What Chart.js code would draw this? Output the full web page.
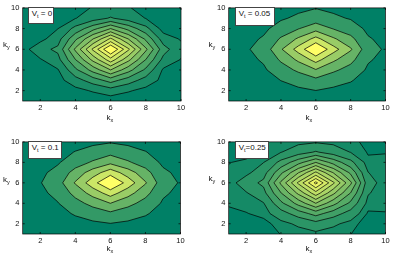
<!DOCTYPE html>
<html lang="en">
  <head>
    <meta charset="UTF-8" />
    <title>Contour panels</title>
    <script src="https://cdn.jsdelivr.net/npm/chart.js"></script>
    <style>
      body {
        margin: 0;
        background: #fff;
      }
      .page {
        position: relative;
        width: 395px;
        height: 262px;
        overflow: hidden;
        font-family: "Liberation Sans", Arial, sans-serif;
        color: #111;
      }
      .page canvas {
        position: absolute;
      }
      .lbl {
        position: absolute;
        font-size: 8px;
        line-height: 8px;
        white-space: nowrap;
      }
      .lbl sub,
      .key sub {
        font-size: 5.5px;
        line-height: 0;
        vertical-align: -2px;
      }
      .key {
        position: absolute;
        box-sizing: border-box;
        background: #fff;
        border: 1px solid #444;
        font-size: 8px;
        line-height: 8px;
        padding: 2.4px 0 0 2.4px;
        white-space: nowrap;
      }
    </style>
  </head>
  <body>
    <div class="page" id="page"></div>
    <script>
      // grid nodes
      const kx = [1, 2, 3, 4, 5, 6, 7, 8, 9, 10];
      const ky = [1, 2, 3, 4, 5, 6, 7, 8, 9, 10];
      const tickValues = [2, 4, 6, 8, 10];

      // values, one row per ky (1 at the bottom)
      const gridVt0 = [
        [0.003, 0.008, 0.010, 0.023, 0.037, 0.050, 0.037, 0.023, 0.011, 0.006],
        [0.008, 0.023, 0.029, 0.070, 0.110, 0.150, 0.110, 0.070, 0.032, 0.017],
        [0.018, 0.045, 0.067, 0.158, 0.249, 0.340, 0.249, 0.158, 0.073, 0.038],
        [0.032, 0.070, 0.093, 0.278, 0.439, 0.600, 0.439, 0.278, 0.085, 0.067],
        [0.046, 0.092, 0.169, 0.399, 0.630, 0.860, 0.630, 0.399, 0.170, 0.096],
        [0.060, 0.170, 0.220, 0.520, 0.820, 1.120, 0.820, 0.520, 0.240, 0.125],
        [0.044, 0.070, 0.161, 0.380, 0.600, 0.820, 0.600, 0.380, 0.150, 0.092],
        [0.027, 0.050, 0.098, 0.232, 0.366, 0.500, 0.366, 0.232, 0.060, 0.056],
        [0.011, 0.032, 0.041, 0.097, 0.154, 0.210, 0.154, 0.097, 0.045, 0.024],
        [0.006, 0.018, 0.024, 0.075, 0.105, 0.120, 0.105, 0.075, 0.026, 0.013]
      ];
      const gridVt005 = [
        [0.120, 0.120, 0.120, 0.120, 0.120, 0.120, 0.120, 0.120, 0.120, 0.120],
        [0.120, 0.126, 0.133, 0.154, 0.174, 0.198, 0.174, 0.157, 0.132, 0.126],
        [0.120, 0.134, 0.151, 0.202, 0.252, 0.310, 0.252, 0.209, 0.150, 0.134],
        [0.120, 0.147, 0.180, 0.279, 0.378, 0.490, 0.378, 0.293, 0.179, 0.147],
        [0.120, 0.164, 0.216, 0.373, 0.531, 0.710, 0.531, 0.396, 0.214, 0.164],
        [0.120, 0.183, 0.258, 0.485, 0.712, 0.970, 0.712, 0.518, 0.256, 0.183],
        [0.120, 0.163, 0.214, 0.369, 0.524, 0.700, 0.524, 0.392, 0.213, 0.163],
        [0.120, 0.144, 0.172, 0.257, 0.343, 0.440, 0.343, 0.270, 0.171, 0.144],
        [0.120, 0.131, 0.144, 0.184, 0.225, 0.270, 0.225, 0.190, 0.144, 0.131],
        [0.120, 0.126, 0.132, 0.152, 0.172, 0.195, 0.172, 0.155, 0.132, 0.126]
      ];
      const gridVt01 = [
        [0.120, 0.120, 0.120, 0.120, 0.120, 0.120, 0.120, 0.120, 0.120, 0.120],
        [0.120, 0.126, 0.135, 0.155, 0.175, 0.195, 0.175, 0.155, 0.133, 0.126],
        [0.120, 0.137, 0.159, 0.213, 0.266, 0.320, 0.266, 0.213, 0.153, 0.136],
        [0.120, 0.152, 0.194, 0.296, 0.398, 0.500, 0.398, 0.296, 0.184, 0.150],
        [0.120, 0.171, 0.237, 0.398, 0.559, 0.720, 0.559, 0.398, 0.220, 0.168],
        [0.120, 0.193, 0.286, 0.514, 0.742, 0.970, 0.742, 0.514, 0.262, 0.188],
        [0.120, 0.173, 0.241, 0.407, 0.574, 0.740, 0.574, 0.407, 0.224, 0.170],
        [0.120, 0.149, 0.186, 0.278, 0.369, 0.460, 0.369, 0.278, 0.177, 0.147],
        [0.120, 0.136, 0.156, 0.205, 0.254, 0.303, 0.254, 0.205, 0.151, 0.135],
        [0.120, 0.126, 0.133, 0.152, 0.170, 0.189, 0.170, 0.152, 0.132, 0.126]
      ];
      const gridVt025 = [
        [0.020, 0.025, 0.035, 0.051, 0.065, 0.080, 0.065, 0.051, 0.020, 0.015],
        [0.030, 0.022, 0.031, 0.074, 0.116, 0.160, 0.116, 0.074, 0.020, 0.030],
        [0.040, 0.047, 0.067, 0.156, 0.247, 0.340, 0.247, 0.156, 0.042, 0.049],
        [0.055, 0.070, 0.095, 0.276, 0.436, 0.600, 0.436, 0.276, 0.074, 0.055],
        [0.058, 0.092, 0.169, 0.396, 0.624, 0.860, 0.624, 0.396, 0.107, 0.058],
        [0.060, 0.155, 0.222, 0.520, 0.820, 1.130, 0.820, 0.520, 0.140, 0.060],
        [0.058, 0.075, 0.161, 0.377, 0.595, 0.820, 0.595, 0.377, 0.102, 0.058],
        [0.048, 0.060, 0.098, 0.230, 0.363, 0.500, 0.363, 0.230, 0.062, 0.055],
        [0.035, 0.029, 0.055, 0.097, 0.152, 0.210, 0.152, 0.097, 0.045, 0.049],
        [0.025, 0.045, 0.052, 0.065, 0.080, 0.090, 0.080, 0.055, 0.045, 0.030]
      ];

      // contour levels per panel
      const levelsVt0 = [0.1, 0.2, 0.3, 0.4, 0.5, 0.6, 0.7, 0.8, 0.9, 1.0];
      const levelsVt005 = [0.2, 0.35, 0.5, 0.65, 0.8];
      const levelsVt01 = [0.2, 0.35, 0.5, 0.65, 0.8];
      const levelsVt025 = [0.05, 0.1, 0.2, 0.3, 0.4, 0.5, 0.6, 0.7, 0.8, 0.9, 1.0, 1.1];

      const panelLabels = ["V<sub>t</sub> = 0", "V<sub>t</sub> = 0.05", "V<sub>t</sub> = 0.1", "V<sub>t</sub>=0.25"];

      // matlab "summer" colormap
      const summer = (t) =>
        "rgb(" + Math.round(255 * t) + "," + Math.round(127.5 + 127.5 * t) + ",102)";

      // part of one grid cell where value >= level (linear on the edges)
      function clipCell(c, level) {
        const out = [];
        for (let k = 0; k < 4; k++) {
          const a = c[k], b = c[(k + 1) % 4];
          const inA = a.v >= level, inB = b.v >= level;
          if (inA) out.push({ x: a.x, y: a.y, cut: false });
          if (inA !== inB) {
            const t = (level - a.v) / (b.v - a.v);
            out.push({ x: a.x + t * (b.x - a.x), y: a.y + t * (b.y - a.y), cut: true });
          }
        }
        return out;
      }

      const contourPlugin = {
        id: "contourFill",
        beforeDatasetsDraw(chart) {
          const ds = chart.data.datasets[0];
          const { ctx, chartArea: area, scales } = chart;
          const px = kx.map((v) => scales.x.getPixelForValue(v));
          const py = ky.map((v) => scales.y.getPixelForValue(v));
          const z = ds.grid;
          const levels = ds.levels;
          const cells = [];
          for (let j = 0; j < ky.length - 1; j++) {
            for (let i = 0; i < kx.length - 1; i++) {
              cells.push([
                { x: px[i], y: py[j], v: z[j][i] },
                { x: px[i + 1], y: py[j], v: z[j][i + 1] },
                { x: px[i + 1], y: py[j + 1], v: z[j + 1][i + 1] },
                { x: px[i], y: py[j + 1], v: z[j + 1][i] }
              ]);
            }
          }
          ctx.save();
          ctx.beginPath();
          ctx.rect(area.left, area.top, area.width, area.height);
          ctx.clip();
          ctx.fillStyle = summer(0);
          ctx.fillRect(area.left, area.top, area.width, area.height);
          const segs = [];
          levels.forEach((level, k) => {
            ctx.beginPath();
            cells.forEach((c) => {
              const poly = clipCell(c, level);
              if (poly.length < 3) return;
              ctx.moveTo(poly[0].x, poly[0].y);
              for (let m = 1; m < poly.length; m++) ctx.lineTo(poly[m].x, poly[m].y);
              ctx.closePath();
              for (let m = 0; m < poly.length; m++) {
                const a = poly[m], b = poly[(m + 1) % poly.length];
                if (a.cut && b.cut) segs.push([a, b]);
              }
            });
            ctx.fillStyle = summer((k + 1) / levels.length);
            ctx.fill();
          });
          ctx.beginPath();
          segs.forEach(([a, b]) => {
            ctx.moveTo(a.x, a.y);
            ctx.lineTo(b.x, b.y);
          });
          ctx.strokeStyle = "#000";
          ctx.lineWidth = 0.7;
          ctx.stroke();
          ctx.restore();
        },
        afterDatasetsDraw(chart) {
          // box with inward ticks on all four sides
          const { ctx, chartArea: a, scales } = chart;
          ctx.save();
          ctx.strokeStyle = "#000";
          ctx.lineWidth = 0.7;
          ctx.strokeRect(a.left, a.top, a.width, a.height);
          ctx.beginPath();
          tickValues.forEach((v) => {
            const x = scales.x.getPixelForValue(v);
            const y = scales.y.getPixelForValue(v);
            ctx.moveTo(x, a.bottom);
            ctx.lineTo(x, a.bottom - 2);
            ctx.moveTo(x, a.top);
            ctx.lineTo(x, a.top + 2);
            ctx.moveTo(a.left, y);
            ctx.lineTo(a.left + 2, y);
            ctx.moveTo(a.right, y);
            ctx.lineTo(a.right - 2, y);
          });
          ctx.stroke();
          ctx.restore();
        }
      };

      const panels = [
        { grid: gridVt0, levels: levelsVt0, label: panelLabels[0],
          left: 0, top: 0, w: 197, h: 131, padRight: 16, xh: 30,
          key: [28.3, 6.7, 26, 17.6], kxAt: [106.5, 113.8], kyAt: [3, 40.5] },
        { grid: gridVt005, levels: levelsVt005, label: panelLabels[1],
          left: 206.3, top: 0, w: 188.7, h: 131, padRight: 8.5, xh: 30,
          key: [235.3, 7, 40, 19], kxAt: [305.5, 113.8], kyAt: [208.5, 40.5] },
        { grid: gridVt01, levels: levelsVt01, label: panelLabels[2],
          left: 0, top: 134, w: 197, h: 128, padRight: 16.5, xh: 28,
          key: [28.3, 140.7, 33.4, 18], kxAt: [106.5, 244.8], kyAt: [3, 175.5] },
        { grid: gridVt025, levels: levelsVt025, label: panelLabels[3],
          left: 206.3, top: 134, w: 188.7, h: 128, padRight: 8.5, xh: 28,
          key: [235.3, 140.7, 33.4, 18], kxAt: [305.5, 244.8], kyAt: [208.5, 175] }
      ];

      const page = document.getElementById("page");
      const tickFont = { family: "'Liberation Sans', Arial, sans-serif", size: 7.5 };

      function addText(cls, html, x, y, w, h) {
        const el = document.createElement("div");
        el.className = cls;
        el.innerHTML = html;
        el.style.left = x + "px";
        el.style.top = y + "px";
        if (w) {
          el.style.width = w + "px";
          el.style.height = h + "px";
        }
        page.appendChild(el);
      }

      panels.forEach((p) => {
        const canvas = document.createElement("canvas");
        canvas.width = p.w;
        canvas.height = p.h;
        canvas.style.left = p.left + "px";
        canvas.style.top = p.top + "px";
        page.appendChild(canvas);

        const points = [];
        ky.forEach((yv, j) => kx.forEach((xv, i) => points.push({ x: xv, y: yv, z: p.grid[j][i] })));

        new Chart(canvas, {
          type: "scatter",
          data: {
            datasets: [{ data: points, grid: p.grid, levels: p.levels, pointRadius: 0 }]
          },
          options: {
            responsive: false,
            animation: false,
            events: [],
            layout: { padding: { left: 0, top: 7, right: p.padRight, bottom: 0 } },
            plugins: { legend: { display: false }, tooltip: { enabled: false } },
            scales: {
              x: {
                type: "linear",
                min: 1,
                max: 10,
                grid: { display: false, drawTicks: false },
                border: { display: false },
                afterBuildTicks: (s) => {
                  s.ticks = tickValues.map((v) => ({ value: v }));
                },
                afterFit: (s) => {
                  s.height = p.xh;
                },
                ticks: { padding: 2.8, font: tickFont, color: "#111", maxRotation: 0, autoSkip: false }
              },
              y: {
                type: "linear",
                min: 1,
                max: 10,
                grid: { display: false, drawTicks: false },
                border: { display: false },
                afterBuildTicks: (s) => {
                  s.ticks = tickValues.map((v) => ({ value: v }));
                },
                afterFit: (s) => {
                  s.width = 22.7;
                },
                ticks: { padding: 3.4, font: tickFont, color: "#111", autoSkip: false }
              }
            }
          },
          plugins: [contourPlugin]
        });

        addText("key", p.label, p.key[0], p.key[1], p.key[2], p.key[3]);
        addText("lbl", "k<sub>x</sub>", p.kxAt[0], p.kxAt[1]);
        addText("lbl", "k<sub>y</sub>", p.kyAt[0], p.kyAt[1]);
      });
    </script>
  </body>
</html>
